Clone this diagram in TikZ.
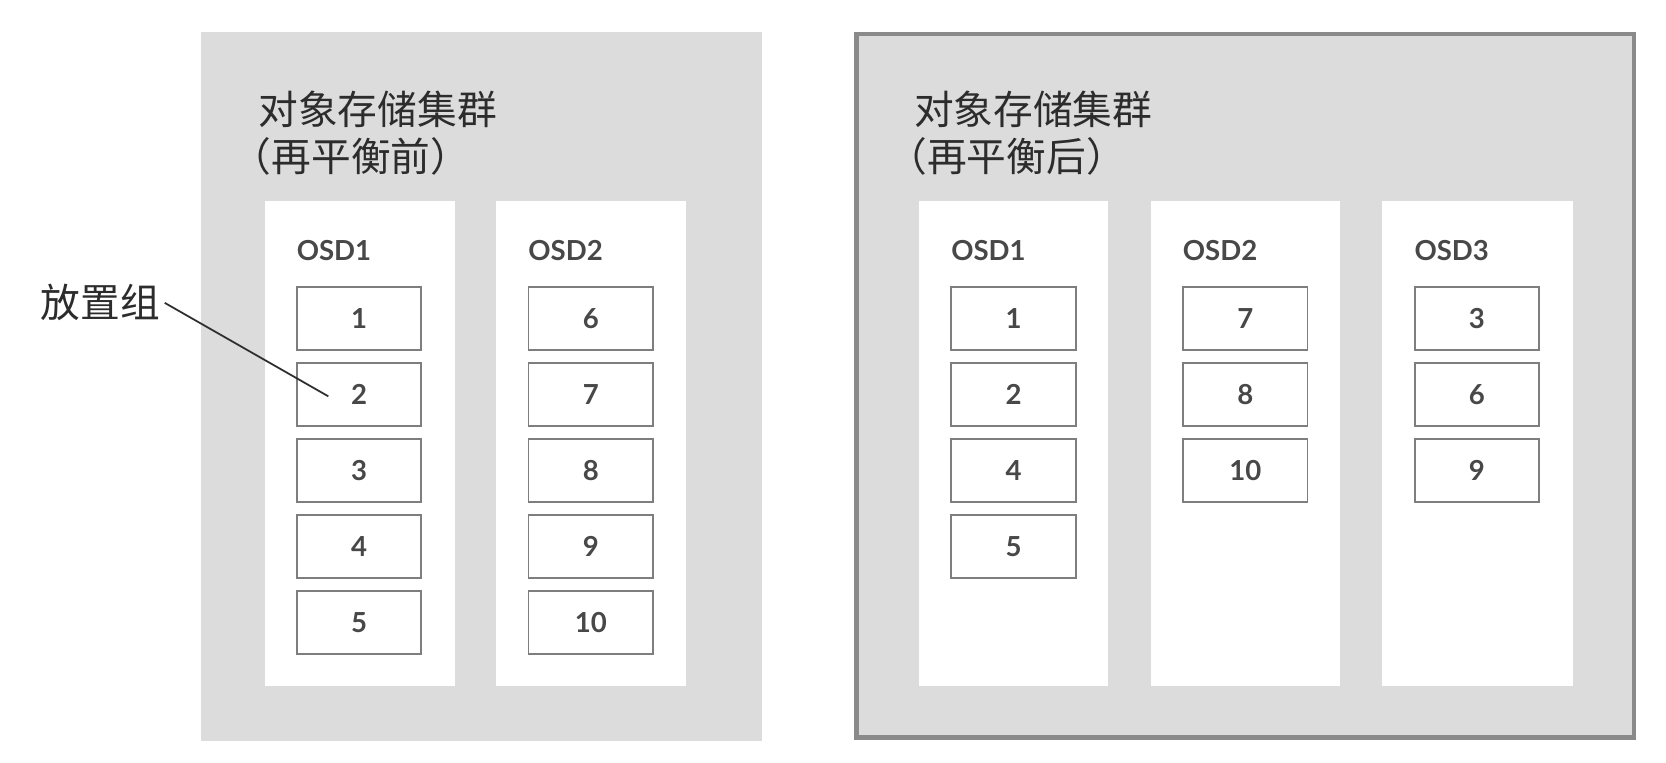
\documentclass[tikz,border=0pt]{standalone}
\usepackage{fontspec}
\setmainfont{Lato}
\newfontfamily\cjk{Noto Sans CJK SC}
\definecolor{panelgray}{HTML}{DCDCDC}
\definecolor{framegray}{HTML}{8A8A8A}
\definecolor{boxgray}{HTML}{7E7E7E}
\definecolor{numgray}{HTML}{484848}
\definecolor{cjkgray}{HTML}{2C2C2C}
\begin{document}
\begin{tikzpicture}[x=0.02125cm,y=-0.02125cm,
  pgbox/.style={draw=boxgray,line width=1.1pt,fill=white,minimum width=2.49cm,minimum height=1.26cm,inner sep=0pt,text=numgray,font=\fontsize{15.7}{16}\selectfont\bfseries},
  osdlab/.style={anchor=west,inner sep=0pt,text=numgray,font=\fontsize{15.7}{16}\selectfont\bfseries},
  cjklab/.style={anchor=west,inner sep=0pt,text=cjkgray,font=\cjk\fontsize{22.6}{26}\selectfont}]
\useasboundingbox (0,0) rectangle (1568,717.2);

\fill[panelgray] (189,30) rectangle (717,697);
\fill[white] (249,189) rectangle (428,646);
\fill[white] (467,189) rectangle (646,646);
\node[cjklab] (ltitle) at (243,103) {对象存储集群};
\node[cjklab] (lsub) at (218,147) {（再平衡前）};
\node[osdlab] (losd1) at (279,236) {OSD1};
\node[osdlab] (losd2) at (497,236) {OSD2};
\node[pgbox] (la1) at (338,300) {1};
\node[pgbox] (la2) at (338,371.4) {2};
\node[pgbox] (la3) at (338,442.8) {3};
\node[pgbox] (la4) at (338,514.2) {4};
\node[pgbox] (la5) at (338,585.6) {5};
\node[pgbox] (lb1) at (556,300) {6};
\node[pgbox] (lb2) at (556,371.4) {7};
\node[pgbox] (lb3) at (556,442.8) {8};
\node[pgbox] (lb4) at (556,514.2) {9};
\node[pgbox] (lb5) at (556,585.6) {10};

\node[cjklab,anchor=east,inner sep=2.5pt] (pglab) at (155,285) {放置组};
\coordinate (pgend) at (309,373);
\draw[cjkgray,line width=1pt] (pglab.east) -- (pgend);

\draw[framegray,line width=2.6pt,fill=panelgray] (806,32) rectangle (1538,694);
\fill[white] (865,189) rectangle (1043,646);
\fill[white] (1083,189) rectangle (1261,646);
\fill[white] (1301,189) rectangle (1480,646);
\node[cjklab] (rtitle) at (860,103) {对象存储集群};
\node[cjklab] (rsub) at (835,147) {（再平衡后）};
\node[osdlab] (rosd1) at (895,236) {OSD1};
\node[osdlab] (rosd2) at (1113,236) {OSD2};
\node[osdlab] (rosd3) at (1331,236) {OSD3};
\node[pgbox] (ra1) at (954,300) {1};
\node[pgbox] (ra2) at (954,371.4) {2};
\node[pgbox] (ra3) at (954,442.8) {4};
\node[pgbox] (ra4) at (954,514.2) {5};
\node[pgbox] (rb1) at (1172,300) {7};
\node[pgbox] (rb2) at (1172,371.4) {8};
\node[pgbox] (rb3) at (1172,442.8) {10};
\node[pgbox] (rc1) at (1390,300) {3};
\node[pgbox] (rc2) at (1390,371.4) {6};
\node[pgbox] (rc3) at (1390,442.8) {9};
\end{tikzpicture}
\end{document}
